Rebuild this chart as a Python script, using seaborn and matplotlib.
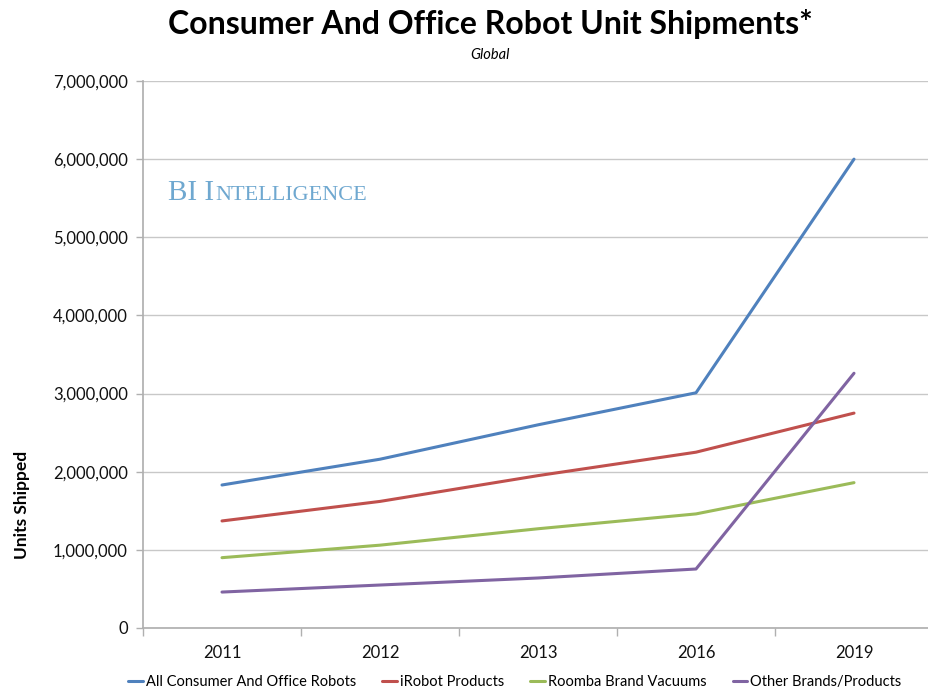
import matplotlib
matplotlib.use("Agg")
import matplotlib.pyplot as plt
import seaborn as sns
import pandas as pd
import numpy as np
from matplotlib.ticker import FuncFormatter, FixedLocator
from matplotlib.lines import Line2D

years = ["2011", "2012", "2013", "2016", "2019"]
all_robots = [1830000, 2160000, 2600000, 3010000, 6000000]
irobot = [1370000, 1620000, 1950000, 2250000, 2750000]
roomba = [900000, 1060000, 1270000, 1460000, 1860000]
other = [460000, 550000, 640000, 755000, 3260000]
series_names = ["All Consumer And Office Robots", "iRobot Products",
                "Roomba Brand Vacuums", "Other Brands/Products"]
colors = ["#4f81bd", "#c0504d", "#9bbb59", "#8064a2"]

sns.set_theme(style="white")
plt.rcParams['font.family'] = ['Lato', 'DejaVu Sans']
plt.rcParams['text.color'] = 'black'

rows = []
for name, vals in zip(series_names, [all_robots, irobot, roomba, other]):
    for i, (yr, v) in enumerate(zip(years, vals)):
        rows.append({"pos": i, "year": yr, "value": v, "series": name})
df = pd.DataFrame(rows)

fig = plt.figure(figsize=(9.29, 6.98), dpi=100)
ax = fig.add_axes([143/929, 1-628/698, (933-143)/929, (628-81)/698])

sns.lineplot(data=df, x="pos", y="value", hue="series", palette=colors,
             hue_order=series_names, linewidth=2.2, sort=False, ax=ax, legend=False)

ax.set_xlim(-0.5, len(years) - 0.5)
ax.set_ylim(0, 7000000)
ax.set_yticks(np.arange(0, 7000001, 1000000))
ax.yaxis.set_major_formatter(FuncFormatter(lambda v, p: f"{int(v):,}"))
ax.yaxis.grid(True, color="#c8c8c8", linewidth=1)
ax.set_axisbelow(True)
ax.set_xticks(range(len(years)))
ax.set_xticklabels(years)
ax.xaxis.set_minor_locator(FixedLocator(np.arange(-0.5, len(years), 1.0)))
ax.tick_params(axis="x", which="major", length=0, pad=12, labelsize=12)
ax.tick_params(axis="x", which="minor", length=6, color="#b0b0b0", width=1, bottom=True)
ax.tick_params(axis="y", which="major", length=5, color="#b0b0b0", width=1, left=True,
               labelsize=12, pad=6)
for lbl in ax.get_xticklabels() + ax.get_yticklabels():
    lbl.set_color("#111111")
for s in ["top", "right"]:
    ax.spines[s].set_visible(False)
ax.spines["left"].set_color("#b0b0b0")
ax.spines["bottom"].set_color("#b0b0b0")
ax.set_xlabel("")
ax.set_ylabel("")

fig.text(490/929, 1-24/698, "Consumer And Office Robot Unit Shipments*", ha="center",
         va="center", fontsize=23, fontweight="bold", color="black")
fig.text(490/929, 1-55/698, "Global", ha="center", va="center", fontsize=10.5,
         style="italic", color="black")
fig.text(22/929, 1-505/698, "Units Shipped", rotation=90, ha="center", va="center",
         fontsize=12.5, fontweight="bold", color="black")

# BI Intelligence watermark in small caps
bi_color = "#6fa8d0"
t1 = fig.text(168/929, 1-200/698, "BI I", fontsize=21, color=bi_color,
              family="Liberation Serif", va="baseline", ha="left")
fig.canvas.draw()
r = fig.canvas.get_renderer()
bb = t1.get_window_extent(r)
fig.text(bb.x1/929 + 0.001, 1-200/698, "NTELLIGENCE", fontsize=16, color=bi_color,
         family="Liberation Serif", va="baseline", ha="left")

handles = [Line2D([0], [0], color=c, linewidth=2.2) for c in colors]
fig.legend(handles, series_names, loc="center", bbox_to_anchor=(515/929, 1-682/698),
           ncol=4, frameon=False, fontsize=10.5, handlelength=1.0, handletextpad=0.2,
           columnspacing=1.8)

fig.savefig("out.png", dpi=100)
